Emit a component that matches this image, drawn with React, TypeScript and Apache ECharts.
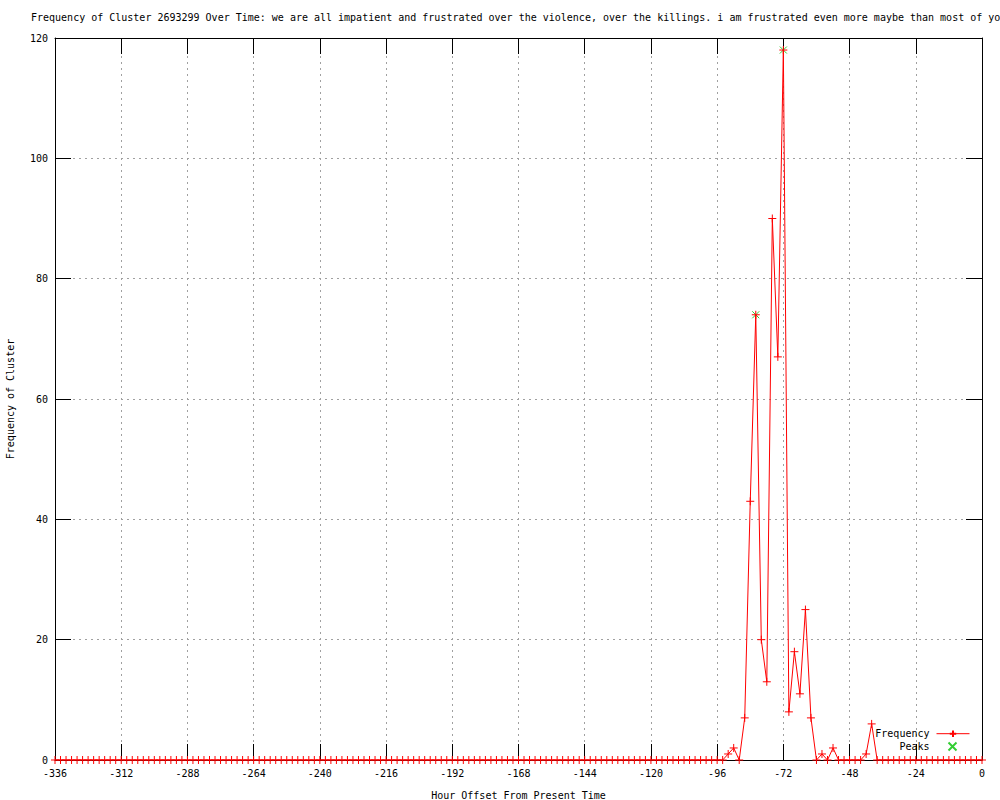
import React, { useEffect, useRef } from "react";
import * as echarts from "echarts";

const TITLE =
  "Frequency of Cluster 2693299 Over Time: we are all impatient and frustrated over the violence, over the killings. i am frustrated even more maybe than most of you";
const X_NAME = "Hour Offset From Present Time";
const Y_NAME = "Frequency of Cluster";

// hours from -336 to 0 in steps of 2
const HOURS: number[] = Array.from({ length: 169 }, (_, i) => -336 + 2 * i);

// frequency per 2-hour bin
const FREQUENCY: number[] = [
  // -336 .. -290
  0, 0, 0, 0, 0, 0, 0, 0, 0, 0, 0, 0, 0, 0, 0, 0, 0, 0, 0, 0, 0, 0, 0, 0,
  // -288 .. -242
  0, 0, 0, 0, 0, 0, 0, 0, 0, 0, 0, 0, 0, 0, 0, 0, 0, 0, 0, 0, 0, 0, 0, 0,
  // -240 .. -194
  0, 0, 0, 0, 0, 0, 0, 0, 0, 0, 0, 0, 0, 0, 0, 0, 0, 0, 0, 0, 0, 0, 0, 0,
  // -192 .. -146
  0, 0, 0, 0, 0, 0, 0, 0, 0, 0, 0, 0, 0, 0, 0, 0, 0, 0, 0, 0, 0, 0, 0, 0,
  // -144 .. -98
  0, 0, 0, 0, 0, 0, 0, 0, 0, 0, 0, 0, 0, 0, 0, 0, 0, 0, 0, 0, 0, 0, 0, 0,
  // -96 .. -50
  0, 0, 1, 2, 0, 7, 43, 74, 20, 13, 90, 67, 118, 8, 18, 11, 25, 7, 0, 1, 0, 2, 0, 0,
  // -48 .. -2
  0, 0, 0, 1, 6, 0, 0, 0, 0, 0, 0, 0, 0, 0, 0, 0, 0, 0, 0, 0, 0, 0, 0, 0,
  // 0
  0,
];

const PEAK_HOURS: number[] = [-82, -72];
const PEAK_VALUES: number[] = [74, 118];

const FONT = "DejaVu Sans Mono";
const PLUS = "path://M0,5H10M5,0V10";
const CROSS = "path://M0,0L10,10M10,0L0,10";

export default function App() {
  const ref = useRef<HTMLDivElement>(null);

  useEffect(() => {
    if (!ref.current) return;
    const chart = echarts.init(ref.current, null, { renderer: "svg" });
    const txt = { fontFamily: FONT, fontSize: 10, color: "#000" };
    const axisLine = { show: true, onZero: false, lineStyle: { color: "#000", width: 1 } };
    const axisTick = { show: true, inside: true, length: 16, lineStyle: { color: "#000", width: 1 } };
    const split = { show: true, lineStyle: { color: "#a0a0a0", type: [2, 4], width: 1 } };
    chart.setOption({
      animation: false,
      backgroundColor: "#fff",
      title: {
        text: TITLE,
        left: 31,
        top: 12,
        padding: 0,
        textStyle: { ...txt, fontWeight: "normal" },
      },
      grid: {
        left: 55,
        right: 18,
        top: 38,
        bottom: 40,
        containLabel: false,
        outerBoundsMode: "none",
      },
      xAxis: [
        {
          type: "value",
          min: -336,
          max: 0,
          interval: 24,
          name: X_NAME,
          nameLocation: "middle",
          nameGap: 30,
          nameTextStyle: txt,
          axisLabel: { ...txt, margin: 8 },
          splitLine: split,
          axisLine,
          axisTick,
        },
        {
          type: "value",
          position: "top",
          min: -336,
          max: 0,
          interval: 24,
          axisLabel: { show: false },
          splitLine: { show: false },
          axisLine,
          axisTick,
        },
      ],
      yAxis: [
        {
          type: "value",
          position: "left",
          min: 0,
          max: 120,
          interval: 20,
          name: Y_NAME,
          nameLocation: "middle",
          nameGap: 40,
          nameRotate: 90,
          nameTextStyle: txt,
          axisLabel: { ...txt, margin: 7 },
          splitLine: split,
          axisLine,
          axisTick,
        },
        {
          type: "value",
          position: "right",
          min: 0,
          max: 120,
          interval: 20,
          axisLabel: { show: false },
          splitLine: { show: false },
          axisLine,
          axisTick,
        },
      ],
      legend: [
        {
          data: ["Frequency"],
          right: 30,
          top: 728,
          align: "right",
          itemWidth: 33,
          itemHeight: 8,
          padding: 0,
          itemGap: 0,
          lineStyle: { width: 1 },
          textStyle: { ...txt, padding: [0, 2, 0, 0] },
          selectedMode: false,
        },
        {
          data: ["Peaks"],
          right: 41,
          top: 740,
          align: "right",
          itemWidth: 8,
          itemHeight: 8,
          padding: 0,
          itemGap: 0,
          textStyle: { ...txt, padding: [0, 14, 0, 0] },
          selectedMode: false,
        },
      ],
      series: [
        {
          name: "Peaks",
          type: "scatter",
          z: 2,
          symbol: CROSS,
          symbolSize: 7,
          itemStyle: { color: "none", borderColor: "#00c000", borderWidth: 1 },
          data: PEAK_HOURS.map((h, i) => [h, PEAK_VALUES[i]]),
        },
        {
          name: "Frequency",
          type: "line",
          z: 3,
          symbol: PLUS,
          symbolSize: 8,
          showAllSymbol: true,
          lineStyle: { color: "#ff0000", width: 1 },
          itemStyle: { color: "none", borderColor: "#ff0000", borderWidth: 1 },
          data: HOURS.map((h, i) => [h, FREQUENCY[i]]),
        },
      ],
    });
    return () => chart.dispose();
  }, []);

  return (
    <div
      ref={ref}
      style={{ position: "absolute", left: 0, top: 0, width: 1000, height: 800 }}
    />
  );
}
